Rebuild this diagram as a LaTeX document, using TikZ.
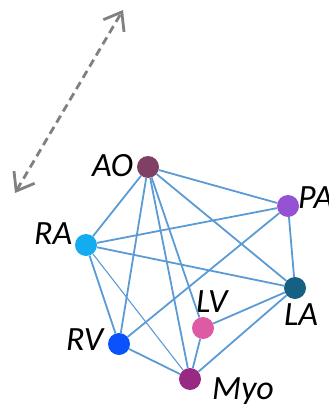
\documentclass[tikz,border=0pt]{standalone}
\usepackage{fontspec}
\setmainfont{Carlito}
\usetikzlibrary{arrows.meta}
\definecolor{aocol}{RGB}{128,64,100}
\definecolor{pacol}{RGB}{150,82,212}
\definecolor{racol}{RGB}{20,172,240}
\definecolor{lacol}{RGB}{22,96,132}
\definecolor{lvcol}{RGB}{222,90,162}
\definecolor{rvcol}{RGB}{10,82,250}
\definecolor{myocol}{RGB}{152,42,132}
\definecolor{linkcol}{RGB}{91,155,213}
\tikzset{
  link/.style={draw=linkcol,line width=1.8pt},
  thinlink/.style={draw=linkcol,line width=1.1pt},
  tag/.style={font=\fontsize{34}{38}\selectfont\itshape,anchor=base west,inner sep=0pt}
}
\begin{document}
\begin{tikzpicture}[x=1pt,y=-1pt]
\useasboundingbox (0,0) rectangle (329,404);
                \begin{scope}[every node/.style={circle,inner sep=0pt,minimum size=22pt}]
                \node[fill=aocol] (AO) at (148,167) {};
                \node[fill=pacol] (PA) at (288,206) {};
                \node[fill=racol] (RA) at (86,245) {};
                \node[fill=lacol] (LA) at (295,288) {};
                \node[fill=lvcol] (LV) at (203,328) {};
                \node[fill=rvcol] (RV) at (119,344) {};
                \node[fill=myocol] (Myo) at (190,379) {};
                \end{scope}
                \node[tag] (AOtxt) at (92,176) {AO};
                \node[tag] (PAtxt) at (298,208) {PA};
                \node[tag] (RAtxt) at (34,244) {RA};
                \node[tag] (LAtxt) at (284,325) {LA};
                \node[tag] (LVtxt) at (196,312) {LV};
                \node[tag] (RVtxt) at (66,350) {RV};
                \node[tag] (Myotxt) at (212,399) {Myo};
                \path[link] (AO) edge (RA) edge (RV) edge (Myo) edge (LV) edge (LA) edge (PA);
                \path[link] (PA) edge (RA) edge (RV) edge (LA);
                \path[link] (RA) edge (LA) edge (RV);
                \path[thinlink] (RA) edge (Myo);
                \path[link] (LA) edge (LV) edge (Myo);
                \path[link] (Myo) edge (LV) edge (RV);
                \coordinate (up) at (123,10);
                \coordinate (down) at (15,193);
                \draw[gray,line width=2.8pt,dash pattern=on 8pt off 5pt,
                      {Straight Barb[length=16pt,width=24pt]}-{Straight Barb[length=16pt,width=24pt]}] (down) -- (up);
            \end{tikzpicture}
\end{document}
